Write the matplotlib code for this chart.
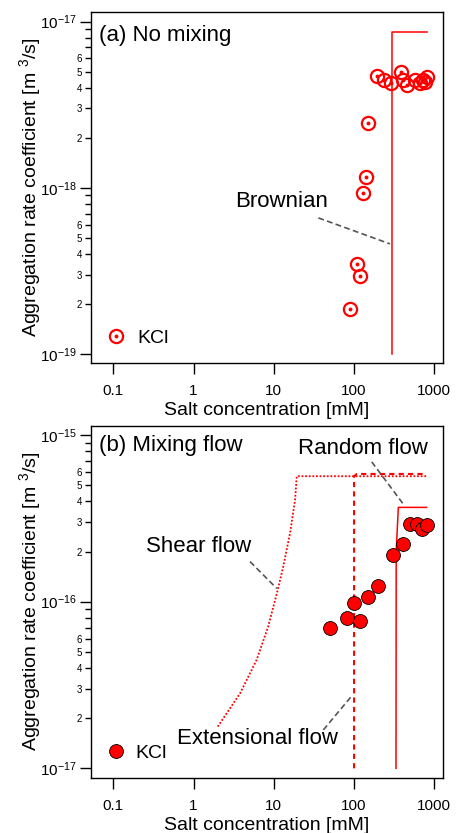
import numpy as np
import matplotlib
matplotlib.use("Agg")
import matplotlib.pyplot as plt
from matplotlib.ticker import FuncFormatter, FixedLocator, NullLocator
from matplotlib.legend_handler import HandlerTuple

plt.rcParams['font.family'] = ['Liberation Sans', 'DejaVu Sans']
plt.rcParams['mathtext.fontset'] = 'custom'
plt.rcParams['mathtext.rm'] = 'Liberation Sans'
plt.rcParams['mathtext.it'] = 'Liberation Sans:italic'
plt.rcParams['mathtext.bf'] = 'Liberation Sans:bold'

# --- data: (a) no mixing, KCl ---
a_salt = [89, 110, 119, 128, 140, 149, 195, 236, 286, 381, 407, 461, 570, 658, 723, 773, 818]
a_rate = [1.87e-19, 3.46e-19, 2.95e-19, 9.3e-19, 1.16e-18, 2.47e-18, 4.68e-18, 4.43e-18,
          4.27e-18, 4.94e-18, 4.47e-18, 4.17e-18, 4.43e-18, 4.27e-18, 4.47e-18, 4.31e-18, 4.63e-18]
brown_x = [300, 300, 800]
brown_y = [1e-19, 8.6e-18, 8.6e-18]

# --- data: (b) mixing flow, KCl ---
b_salt = [50, 81, 100, 119, 149, 199, 303, 404, 498, 604, 697, 803]
b_rate = [7.0e-17, 8.0e-17, 9.8e-17, 7.66e-17, 1.06e-16, 1.24e-16, 1.9e-16, 2.22e-16,
          2.92e-16, 2.92e-16, 2.72e-16, 2.88e-16]
shear_x = [2, 3.8, 6.1, 8.5, 10.9, 13.1, 15.9, 18.4, 19.3, 800]
shear_y = [1.78e-17, 2.82e-17, 4.47e-17, 7.08e-17, 1.12e-16, 1.62e-16, 2.57e-16, 4.07e-16, 5.66e-16, 5.66e-16]
ext_x = [100, 100, 108, 800]
ext_y = [1e-17, 5.66e-16, 5.84e-16, 5.84e-16]
rand_x = [333, 335, 356, 800]
rand_y = [1e-17, 2e-16, 3.68e-16, 3.68e-16]

xticks = [0.1, 1, 10, 100, 1000]
xticklabels = ['0.1', '1', '10', '100', '1000']
a_decades = [-19, -18, -17]
b_decades = [-17, -16, -15]

RED = '#ff0000'
GREY = '#555555'
LEADER = (0, (3.5, 2))


def major_fmt(v, pos):
    return r'$10^{%d}$' % int(round(np.log10(v)))


def minor_fmt(v, pos):
    m = int(round(v / 10 ** np.floor(np.log10(v) + 1e-9)))
    return str(m) if m in (2, 3, 4, 5, 6) else ''


def style_axes(ax, ylim, decades):
    ax.set_xscale('log')
    ax.set_yscale('log')
    ax.set_xlim(0.0527, 1282)
    ax.set_ylim(*ylim)
    ax.xaxis.set_major_locator(FixedLocator(xticks))
    ax.set_xticklabels(xticklabels)
    ax.xaxis.set_minor_locator(NullLocator())
    ax.yaxis.set_major_locator(FixedLocator([10.0 ** e for e in decades]))
    minors = [m * 10.0 ** e for e in decades[:-1] for m in range(2, 10)]
    ax.yaxis.set_minor_locator(FixedLocator(minors))
    ax.yaxis.set_major_formatter(FuncFormatter(major_fmt))
    ax.yaxis.set_minor_formatter(FuncFormatter(minor_fmt))
    ax.tick_params(which='major', direction='out', length=8, width=1, labelsize=11)
    ax.tick_params(axis='x', which='major', pad=7.5)
    ax.tick_params(axis='y', which='major', pad=2)
    ax.tick_params(axis='y', which='minor', direction='out', length=4.5, width=1, labelsize=7, pad=2)
    for s in ax.spines.values():
        s.set_linewidth(1)
    ax.set_xlabel('Salt concentration [mM]', fontsize=14, labelpad=2.5)
    ax.set_ylabel('Aggregation rate coefficient [m $^{3}$/s]', fontsize=14)
    ax.yaxis.set_label_coords(-0.135, 0.5)


fig = plt.figure(figsize=(4.6, 8.33), dpi=100)

# (a)
ax1 = fig.add_axes([0.1978, 0.5646, 0.7652, 0.4207])
style_axes(ax1, (8.87e-20, 1.138e-17), a_decades)
ax1.plot(brown_x, brown_y, color=RED, lw=1.1)
h1, = ax1.plot(a_salt, a_rate, 'o', ms=9.5, mfc='none', mec=RED, mew=1.6, ls='none')
h2, = ax1.plot(a_salt, a_rate, 'o', ms=1.8, mfc=RED, mec=RED, ls='none')
ax1.plot([35.9, 280], [6.59e-19, 4.6e-19], color=GREY, lw=1.2, ls=LEADER)
ax1.text(12.5, 8.3e-19, 'Brownian', fontsize=16, ha='center', va='center')
ax1.text(0.023, 0.935, '(a) No mixing', fontsize=16, transform=ax1.transAxes, va='center')
ax1.legend([(h1, h2)], ['KCl'], handler_map={tuple: HandlerTuple(ndivide=1, pad=0)},
           loc='lower left', frameon=False, fontsize=14, handlelength=1.0,
           handletextpad=0.6, borderaxespad=0.4, bbox_to_anchor=(0.0, 0.0))

# (b)
ax2 = fig.add_axes([0.1978, 0.0664, 0.7652, 0.4226])
style_axes(ax2, (8.79e-18, 1.138e-15), b_decades)
ax2.plot(shear_x, shear_y, color=RED, lw=1.3, ls=(0, (1, 1)))
ax2.plot(ext_x, ext_y, color=RED, lw=1.5, ls=(0, (2.5, 2)))
ax2.plot(rand_x, rand_y, color=RED, lw=1.1)
h3, = ax2.plot(b_salt, b_rate, 'o', ms=10, mfc=RED, mec='black', mew=0.6, ls='none')
ax2.plot([166, 419], [6.9e-16, 3.8e-16], color=GREY, lw=1.2, ls=LEADER)
ax2.plot([5.05, 10.9], [1.74e-16, 1.2e-16], color=GREY, lw=1.2, ls=LEADER)
ax2.plot([41.4, 96], [1.7e-17, 2.76e-17], color=GREY, lw=1.2, ls=LEADER)
ax2.text(130, 8.3e-16, 'Random flow', fontsize=16, ha='center', va='center')
ax2.text(1.17, 2.14e-16, 'Shear flow', fontsize=16, ha='center', va='center')
ax2.text(6.2, 1.52e-17, 'Extensional flow', fontsize=16, ha='center', va='center')
ax2.text(0.023, 0.945, '(b) Mixing flow', fontsize=16, transform=ax2.transAxes, va='center')
ax2.legend([h3], ['KCl'], loc='lower left', frameon=False, fontsize=14, handlelength=1.0,
           handletextpad=0.5, borderaxespad=0.4, bbox_to_anchor=(0.0, 0.0))

fig.savefig('out.png', dpi=100)
